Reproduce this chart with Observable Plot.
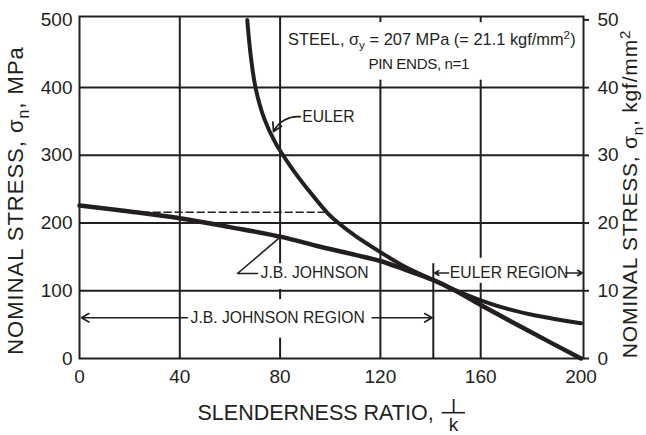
<!DOCTYPE html>
<html>
<head>
<meta charset="utf-8">
<script src="https://cdn.jsdelivr.net/npm/d3@7"></script>
<script src="https://cdn.jsdelivr.net/npm/@observablehq/plot@0.6"></script>
<style>
  html, body { margin: 0; padding: 0; background: #ffffff; }
  #chart { width: 646px; height: 435px; }
  .ytl text { letter-spacing: 1px; }
  .ytr text { letter-spacing: 0.8px; }
  .note2 text { letter-spacing: -0.4px; }
</style>
</head>
<body>
<div id="chart"></div>
<script>
// ---- data ----
const eulerX = [66.9, 68.2, 70.2, 73.6, 78.2, 84.5, 91, 99.1, 103.3, 110, 120, 130, 141, 149, 160, 170, 180, 190, 200];
const eulerY = [500, 450, 400, 355, 318, 282, 250, 214, 200, 181, 157, 135, 116, 102, 86, 74, 65, 58, 52];

const johnsonX = [0, 20, 40, 60, 80, 96, 110, 120, 130, 141, 149, 160, 180, 200];
const johnsonY = [226, 217, 207, 194, 180, 165, 153, 144, 131, 116, 102, 79, 39, 0];

const dashedX = [25, 98];
const dashedY = [216, 216];

const xTicks = [0, 40, 80, 120, 160, 200];
const xGrid = [40, 80, 120, 160];
const yTicks = [0, 100, 200, 300, 400, 500];
const yGrid = [100, 200, 300, 400];
const kgfPerMPa = 0.1; // right axis labels: 0..50 kgf/mm²

const regionBoundary = 141.1;
const boundaryTop = 140;

const xTitle = "SLENDERNESS RATIO,";
const yTitleLeft = "NOMINAL STRESS, σ_{n}, MPa";
const yTitleRight = "NOMINAL STRESS, σ_{n}, kgf/mm^{2}";
const noteLine1 = "STEEL, σ_{y} = 207 MPa (= 21.1 kgf/mm^{2})";
const noteLine2 = "PIN ENDS, n=1";

// annotation anchors (data space)
const note1 = [{x: 140.5, y: 471, text: noteLine1}];
const note2 = [{x: 135.3, y: 435, text: noteLine2}];
const labels = [
  {x: 88.8, y: 356.6, text: "EULER"},
  {x: 72.2, y: 126.3, text: "J.B. JOHNSON"},
  {x: 147.7, y: 126.3, text: "EULER REGION"},
  {x: 44.3, y: 60.1, text: "J.B. JOHNSON REGION"}
];
const masks = [
  {x1: 81, x2: 199.2, y1: 411, y2: 496},
  {x1: 71, x2: 116, y1: 102, y2: 140},
  {x1: 44, x2: 116, y1: 30, y2: 87},
  {x1: 143, x2: 199, y1: 111, y2: 148}
];
const regionArrows = [
  {x1: 43, y1: 60.1, x2: 0.8, y2: 60.1},
  {x1: 116.7, y1: 60.1, x2: 140.6, y2: 60.1},
  {x1: 147.2, y1: 126.3, x2: 141.7, y2: 126.3},
  {x1: 194, y1: 126.3, x2: 200.5, y2: 126.3}
];
const eulerLeader = [{x1: 88, y1: 357, x2: 77.4, y2: 335}];
const johnsonLeaderX = [71, 63, 79.7];
const johnsonLeaderY = [125.5, 125.5, 178];

// ---- tables built from the arrays ----
const euler = eulerX.map((x, i) => ({x, y: eulerY[i]}));
const johnson = johnsonX.map((x, i) => ({x, y: johnsonY[i]}));
const dashed = dashedX.map((x, i) => ({x, y: dashedY[i]}));
const johnsonLeader = johnsonLeaderX.map((x, i) => ({x, y: johnsonLeaderY[i]}));

const ink = "#231f20";
const font = "'Liberation Sans', Arial, Helvetica, sans-serif";

const chart = Plot.plot({
  width: 646,
  height: 435,
  marginLeft: 79,
  marginRight: 63,
  marginTop: 16,
  marginBottom: 77,
  style: {fontFamily: font, color: ink, background: "white", overflow: "visible"},
  x: {domain: [0, 201], label: null},
  y: {domain: [0, 505], label: null},
  marks: [
    Plot.gridX(xGrid, {stroke: ink, strokeOpacity: 1, strokeWidth: 2}),
    Plot.gridY(yGrid, {stroke: ink, strokeOpacity: 1, strokeWidth: 2}),
    Plot.rect(masks, {x1: "x1", x2: "x2", y1: "y1", y2: "y2", fill: "white"}),
    Plot.ruleX([regionBoundary], {y1: 0, y2: boundaryTop, stroke: ink, strokeWidth: 2}),
    Plot.line(dashed, {x: "x", y: "y", stroke: ink, strokeWidth: 1.6, strokeDasharray: "7,4"}),
    Plot.line(euler, {x: "x", y: "y", stroke: ink, strokeWidth: 4, curve: "catmull-rom"}),
    Plot.line(johnson, {x: "x", y: "y", stroke: ink, strokeWidth: 4.5, curve: "catmull-rom"}),
    Plot.line(johnsonLeader, {x: "x", y: "y", stroke: ink, strokeWidth: 1.6}),
    Plot.arrow(eulerLeader, {x1: "x1", y1: "y1", x2: "x2", y2: "y2", stroke: ink, strokeWidth: 1.8, bend: -35, headLength: 8}),
    Plot.arrow(regionArrows, {x1: "x1", y1: "y1", x2: "x2", y2: "y2", stroke: ink, strokeWidth: 1.6, headLength: 8}),
    Plot.text(note1, {x: "x", y: "y", text: "text", textAnchor: "middle", lineAnchor: "middle", fontSize: 16.4, fill: ink}),
    Plot.text(note2, {x: "x", y: "y", text: "text", textAnchor: "middle", lineAnchor: "middle", fontSize: 15.2, fill: ink, className: "note2"}),
    Plot.text(labels, {x: "x", y: "y", text: "text", textAnchor: "start", lineAnchor: "middle", fontSize: 15.7, fill: ink}),
    Plot.frame({stroke: ink, strokeWidth: 2}),
    Plot.axisX(xTicks, {tickSize: 0, tickPadding: 11, fontSize: 19, label: null, fill: ink}),
    Plot.axisY(yTicks, {anchor: "left", tickSize: 0, tickPadding: 7, fontSize: 19, label: null, fill: ink}),
    Plot.axisY(yTicks, {anchor: "right", tickSize: 5, tickPadding: 9, strokeWidth: 2, stroke: ink, fontSize: 19, label: null, fill: ink, tickFormat: d => String(Math.round(d * kgfPerMPa))}),
    Plot.text([xTitle], {frameAnchor: "bottom-left", text: d => d, textAnchor: "start", lineAnchor: "middle", dx: 118, dy: 55, fontSize: 21.5, fill: ink}),
    Plot.text([yTitleLeft], {frameAnchor: "left", text: d => d, rotate: -90, textAnchor: "middle", lineAnchor: "middle", dx: -63.5, dy: 13, fontSize: 22, fill: ink, className: "ytl"}),
    Plot.text([yTitleRight], {frameAnchor: "right", text: d => d, rotate: -90, textAnchor: "middle", lineAnchor: "middle", dx: 47, dy: 6.5, fontSize: 21, fill: ink, className: "ytr"}),
    Plot.text(["l"], {frameAnchor: "bottom-left", text: d => d, textAnchor: "middle", lineAnchor: "middle", dx: 374, dy: 47, fontSize: 19, fill: ink}),
    Plot.text(["k"], {frameAnchor: "bottom-left", text: d => d, textAnchor: "middle", lineAnchor: "middle", dx: 374, dy: 66, fontSize: 19, fill: ink})
  ]
});

// fraction bar for l/k
d3.select(chart).append("line")
  .attr("x1", 441.7).attr("x2", 465).attr("y1", 412.7).attr("y2", 412.7)
  .attr("stroke", ink).attr("stroke-width", 1.6);

// sub/superscripts as real tspans
d3.select(chart).selectAll("text").each(function () {
  const el = this;
  if (el.querySelector("tspan")) return;
  const t = el.textContent;
  if (!/[_^]\{/.test(t)) return;
  el.textContent = "";
  const re = /([_^])\{([^}]*)\}/g;
  let last = 0, m, pending = 0;
  const add = (s, dy, small) => {
    const ts = d3.select(el).append("tspan").text(s);
    if (dy) ts.attr("dy", dy + "em");
    if (small) ts.attr("font-size", "72%");
  };
  while ((m = re.exec(t))) {
    if (m.index > last) { add(t.slice(last, m.index), pending); pending = 0; }
    if (m[1] === "_") { add(m[2], pending / 0.72 + 0.38, true); pending = -0.38 * 0.72; }
    else { add(m[2], pending / 0.72 - 0.5, true); pending = 0.5 * 0.72; }
    last = m.index + m[0].length;
  }
  if (last < t.length) add(t.slice(last), pending);
});

document.getElementById("chart").appendChild(chart);
</script>
</body>
</html>
